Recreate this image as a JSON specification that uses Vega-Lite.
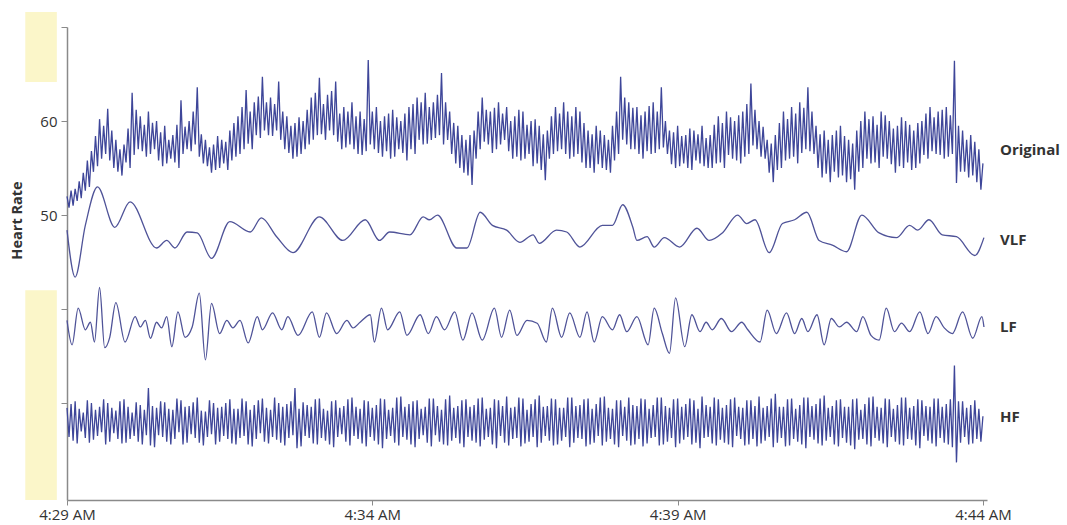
{
"$schema":"https://vega.github.io/schema/vega-lite/v6.json",
"width":920,"height":473,
"autosize":"none",
"padding":{"left":67,"top":27,"right":80,"bottom":25},
"background":"white",
"config":{"view":{"stroke":null},"font":"Open Sans"},
"datasets":{
"bands":[{"t1":-41,"t2":-10,"v1":64.15,"v2":71.6},{"t1":-41,"t2":-10,"v1":19.7,"v2":42.0}],
"labels":[{"t":901,"v":56.9,"label":"Original"},{"t":901,"v":47.3,"label":"VLF"},{"t":901,"v":38.1,"label":"LF"},{"t":901,"v":28.5,"label":"HF"}],
"beats":[
{"t":0,"o":52.0,"h":29.5},{"t":2,"o":50.8,"h":26.4},{"t":4,"o":52.6,"h":29.9},{"t":6,"o":51.0,"h":26.0},
{"t":8,"o":52.8,"h":30.2},{"t":10,"o":51.5,"h":25.7},{"t":12,"o":53.6,"h":29.4},{"t":14,"o":51.8,"h":27.0},
{"t":16,"o":54.5,"h":29.0},{"t":18,"o":52.6,"h":26.3},{"t":20,"o":55.8,"h":30.3},{"t":22,"o":53.0,"h":25.8},
{"t":24,"o":56.8,"h":30.0},{"t":26,"o":54.6,"h":26.1},{"t":28,"o":58.4,"h":29.3},{"t":30,"o":55.2,"h":26.5},
{"t":32,"o":60.2,"h":29.6},{"t":34,"o":56.0,"h":26.9},{"t":36,"o":59.5,"h":30.4},{"t":38,"o":56.5,"h":25.6},
{"t":40,"o":61.3,"h":30.0},{"t":42,"o":55.8,"h":25.9},{"t":44,"o":59.0,"h":29.5},{"t":46,"o":55.0,"h":26.8},
{"t":48,"o":58.0,"h":29.2},{"t":50,"o":54.6,"h":26.2},{"t":52,"o":57.0,"h":30.2},{"t":54,"o":54.2,"h":25.7},
{"t":56,"o":57.5,"h":30.4},{"t":58,"o":55.6,"h":25.8},{"t":60,"o":59.2,"h":29.6},{"t":62,"o":55.0,"h":26.2},
{"t":64,"o":63.0,"h":29.0},{"t":66,"o":56.4,"h":26.5},{"t":68,"o":61.2,"h":30.1},{"t":70,"o":57.0,"h":25.9},
{"t":72,"o":60.5,"h":29.8},{"t":74,"o":56.8,"h":25.6},{"t":76,"o":59.6,"h":29.3},{"t":78,"o":56.2,"h":26.6},
{"t":80,"o":61.0,"h":31.6},{"t":82,"o":56.5,"h":25.5},{"t":84,"o":59.8,"h":29.7},{"t":86,"o":57.0,"h":25.3},
{"t":88,"o":60.0,"h":29.5},{"t":90,"o":55.8,"h":26.6},{"t":92,"o":58.8,"h":30.2},{"t":94,"o":55.2,"h":26.4},
{"t":96,"o":59.5,"h":30.1},{"t":98,"o":55.5,"h":25.9},{"t":100,"o":58.0,"h":29.4},{"t":102,"o":56.0,"h":25.6},
{"t":104,"o":58.5,"h":29.3},{"t":106,"o":55.6,"h":26.2},{"t":108,"o":59.6,"h":30.5},{"t":110,"o":55.0,"h":26.9},
{"t":112,"o":62.2,"h":30.3},{"t":114,"o":56.5,"h":25.6},{"t":116,"o":59.4,"h":29.6},{"t":118,"o":57.0,"h":25.8},
{"t":120,"o":60.0,"h":29.7},{"t":122,"o":56.8,"h":26.7},{"t":124,"o":61.0,"h":30.1},{"t":126,"o":57.5,"h":26.3},
{"t":128,"o":63.6,"h":30.6},{"t":130,"o":56.2,"h":25.8},{"t":132,"o":58.6,"h":29.2},{"t":134,"o":55.5,"h":25.5},
{"t":136,"o":58.0,"h":29.1},{"t":138,"o":55.2,"h":26.4},{"t":140,"o":57.2,"h":30.3},{"t":142,"o":54.5,"h":26.7},
{"t":144,"o":57.5,"h":30.0},{"t":146,"o":54.8,"h":25.6},{"t":148,"o":58.4,"h":29.5},{"t":150,"o":55.0,"h":25.9},
{"t":152,"o":58.0,"h":29.6},{"t":154,"o":55.5,"h":26.5},{"t":156,"o":57.8,"h":30.0},{"t":158,"o":54.8,"h":26.2},
{"t":160,"o":59.0,"h":30.4},{"t":162,"o":55.8,"h":25.7},{"t":164,"o":59.8,"h":29.4},{"t":166,"o":56.2,"h":25.6},
{"t":168,"o":60.5,"h":29.4},{"t":170,"o":56.5,"h":26.3},{"t":172,"o":61.5,"h":30.5},{"t":174,"o":57.0,"h":26.5},
{"t":176,"o":63.3,"h":30.2},{"t":178,"o":57.6,"h":25.6},{"t":180,"o":61.0,"h":29.3},{"t":182,"o":57.0,"h":25.4},
{"t":184,"o":62.0,"h":29.8},{"t":186,"o":58.5,"h":26.2},{"t":188,"o":62.6,"h":30.3},{"t":190,"o":58.2,"h":26.8},
{"t":192,"o":64.7,"h":30.5},{"t":194,"o":59.0,"h":25.9},{"t":196,"o":62.0,"h":29.5},{"t":198,"o":58.5,"h":25.7},
{"t":200,"o":62.5,"h":29.3},{"t":202,"o":58.4,"h":26.4},{"t":204,"o":61.8,"h":30.6},{"t":206,"o":59.0,"h":26.1},
{"t":208,"o":64.2,"h":30.0},{"t":210,"o":58.0,"h":25.8},{"t":212,"o":61.0,"h":29.6},{"t":214,"o":57.0,"h":25.5},
{"t":216,"o":60.5,"h":29.9},{"t":218,"o":56.6,"h":26.3},{"t":220,"o":59.5,"h":30.2},{"t":222,"o":56.0,"h":26.6},
{"t":224,"o":59.8,"h":31.6},{"t":226,"o":56.2,"h":25.2},{"t":228,"o":60.4,"h":29.4},{"t":230,"o":56.5,"h":25.4},
{"t":232,"o":60.0,"h":30.1},{"t":234,"o":57.0,"h":26.5},{"t":236,"o":61.2,"h":29.8},{"t":238,"o":57.5,"h":26.3},
{"t":240,"o":62.5,"h":29.6},{"t":242,"o":58.0,"h":25.7},{"t":244,"o":63.0,"h":30.4},{"t":246,"o":58.5,"h":25.6},
{"t":248,"o":64.6,"h":30.5},{"t":250,"o":58.6,"h":26.3},{"t":252,"o":61.8,"h":29.4},{"t":254,"o":58.0,"h":26.0},
{"t":256,"o":62.8,"h":29.2},{"t":258,"o":59.0,"h":25.6},{"t":260,"o":63.2,"h":30.2},{"t":262,"o":58.5,"h":25.3},
{"t":264,"o":64.2,"h":30.3},{"t":266,"o":57.8,"h":26.4},{"t":268,"o":60.8,"h":29.5},{"t":270,"o":57.0,"h":26.7},
{"t":272,"o":61.5,"h":29.7},{"t":274,"o":57.2,"h":25.9},{"t":276,"o":61.0,"h":30.4},{"t":278,"o":57.5,"h":25.5},
{"t":280,"o":62.0,"h":30.6},{"t":282,"o":57.0,"h":26.5},{"t":284,"o":60.5,"h":29.6},{"t":286,"o":56.5,"h":26.2},
{"t":288,"o":61.0,"h":29.4},{"t":290,"o":56.4,"h":25.7},{"t":292,"o":60.2,"h":30.3},{"t":294,"o":56.8,"h":25.4},
{"t":296,"o":66.5,"h":30.2},{"t":298,"o":57.5,"h":26.4},{"t":300,"o":61.0,"h":29.5},{"t":302,"o":57.0,"h":26.0},
{"t":304,"o":61.5,"h":29.8},{"t":306,"o":56.6,"h":25.6},{"t":308,"o":60.0,"h":30.5},{"t":310,"o":56.2,"h":25.2},
{"t":312,"o":60.5,"h":30.4},{"t":314,"o":56.8,"h":26.2},{"t":316,"o":60.8,"h":29.3},{"t":318,"o":56.0,"h":26.5},
{"t":320,"o":61.2,"h":29.5},{"t":322,"o":56.2,"h":25.8},{"t":324,"o":60.4,"h":30.6},{"t":326,"o":57.0,"h":25.5},
{"t":328,"o":60.0,"h":30.7},{"t":330,"o":56.6,"h":26.4},{"t":332,"o":60.8,"h":29.6},{"t":334,"o":55.8,"h":26.1},
{"t":336,"o":61.5,"h":29.9},{"t":338,"o":57.0,"h":25.6},{"t":340,"o":61.8,"h":30.2},{"t":342,"o":56.5,"h":25.3},
{"t":344,"o":62.5,"h":30.3},{"t":346,"o":58.0,"h":26.2},{"t":348,"o":62.0,"h":29.4},{"t":350,"o":57.5,"h":26.6},
{"t":352,"o":63.0,"h":29.6},{"t":354,"o":57.6,"h":25.8},{"t":356,"o":61.5,"h":30.5},{"t":358,"o":58.0,"h":25.4},
{"t":360,"o":62.0,"h":30.5},{"t":362,"o":58.2,"h":26.6},{"t":364,"o":62.8,"h":29.7},{"t":366,"o":58.5,"h":25.9},
{"t":368,"o":65.1,"h":29.3},{"t":370,"o":57.5,"h":25.6},{"t":372,"o":62.0,"h":30.4},{"t":374,"o":58.0,"h":25.5},
{"t":376,"o":61.0,"h":30.8},{"t":378,"o":56.5,"h":26.0},{"t":380,"o":59.8,"h":29.5},{"t":382,"o":55.5,"h":26.3},
{"t":384,"o":59.5,"h":29.7},{"t":386,"o":55.0,"h":25.7},{"t":388,"o":58.5,"h":30.3},{"t":390,"o":54.5,"h":25.3},
{"t":392,"o":58.0,"h":30.4},{"t":394,"o":54.2,"h":26.4},{"t":396,"o":58.5,"h":29.6},{"t":398,"o":53.2,"h":26.0},
{"t":400,"o":59.0,"h":29.8},{"t":402,"o":56.0,"h":25.8},{"t":404,"o":61.0,"h":30.5},{"t":406,"o":57.0,"h":25.4},
{"t":408,"o":62.5,"h":30.6},{"t":410,"o":57.8,"h":26.1},{"t":412,"o":61.2,"h":29.4},{"t":414,"o":57.5,"h":26.4},
{"t":416,"o":61.0,"h":29.5},{"t":418,"o":56.6,"h":25.6},{"t":420,"o":61.4,"h":30.4},{"t":422,"o":57.0,"h":25.2},
{"t":424,"o":62.0,"h":30.3},{"t":426,"o":57.5,"h":26.5},{"t":428,"o":60.8,"h":29.7},{"t":430,"o":58.0,"h":25.8},
{"t":432,"o":61.5,"h":30.7},{"t":434,"o":56.8,"h":25.5},{"t":436,"o":60.0,"h":29.5},{"t":438,"o":56.0,"h":26.2},
{"t":440,"o":60.5,"h":29.6},{"t":442,"o":56.2,"h":26.3},{"t":444,"o":61.2,"h":30.6},{"t":446,"o":55.8,"h":25.4},
{"t":448,"o":61.0,"h":30.5},{"t":450,"o":56.0,"h":25.7},{"t":452,"o":59.6,"h":29.3},{"t":454,"o":56.5,"h":25.9},
{"t":456,"o":60.0,"h":29.9},{"t":458,"o":55.2,"h":26.4},{"t":460,"o":60.2,"h":30.4},{"t":462,"o":55.5,"h":25.3},
{"t":464,"o":59.5,"h":30.8},{"t":466,"o":54.8,"h":25.8},{"t":468,"o":58.6,"h":29.6},{"t":470,"o":53.7,"h":26.5},
{"t":472,"o":59.0,"h":29.7},{"t":474,"o":56.0,"h":26.0},{"t":476,"o":60.5,"h":30.5},{"t":478,"o":56.5,"h":25.5},
{"t":480,"o":61.5,"h":30.4},{"t":482,"o":56.8,"h":25.6},{"t":484,"o":60.8,"h":29.5},{"t":486,"o":57.0,"h":26.0},
{"t":488,"o":62.0,"h":29.5},{"t":490,"o":56.5,"h":26.4},{"t":492,"o":61.0,"h":30.6},{"t":494,"o":56.0,"h":25.3},
{"t":496,"o":60.5,"h":30.6},{"t":498,"o":56.2,"h":25.8},{"t":500,"o":61.5,"h":29.7},{"t":502,"o":56.5,"h":26.3},
{"t":504,"o":61.0,"h":29.8},{"t":506,"o":55.6,"h":26.2},{"t":508,"o":59.8,"h":30.4},{"t":510,"o":55.0,"h":25.4},
{"t":512,"o":59.0,"h":30.5},{"t":514,"o":55.0,"h":25.6},{"t":516,"o":58.6,"h":29.4},{"t":518,"o":54.5,"h":25.8},
{"t":520,"o":59.5,"h":29.9},{"t":522,"o":55.4,"h":26.5},{"t":524,"o":59.0,"h":30.6},{"t":526,"o":55.0,"h":25.5},
{"t":528,"o":58.5,"h":30.7},{"t":530,"o":54.8,"h":25.9},{"t":532,"o":58.0,"h":29.5},{"t":534,"o":54.5,"h":26.2},
{"t":536,"o":59.5,"h":29.4},{"t":538,"o":55.8,"h":25.6},{"t":540,"o":61.0,"h":30.3},{"t":542,"o":56.5,"h":25.3},
{"t":544,"o":64.7,"h":30.3},{"t":546,"o":58.0,"h":26.5},{"t":548,"o":62.5,"h":29.6},{"t":550,"o":57.5,"h":26.0},
{"t":552,"o":62.0,"h":30.6},{"t":554,"o":57.0,"h":25.5},{"t":556,"o":61.4,"h":29.8},{"t":558,"o":57.0,"h":25.6},
{"t":560,"o":61.5,"h":29.7},{"t":562,"o":56.5,"h":26.2},{"t":564,"o":60.6,"h":30.5},{"t":566,"o":56.0,"h":25.4},
{"t":568,"o":61.0,"h":30.4},{"t":570,"o":56.8,"h":25.7},{"t":572,"o":61.6,"h":29.4},{"t":574,"o":56.5,"h":26.3},
{"t":576,"o":62.0,"h":29.8},{"t":578,"o":56.6,"h":26.4},{"t":580,"o":61.0,"h":30.6},{"t":582,"o":57.0,"h":25.5},
{"t":584,"o":63.6,"h":30.6},{"t":586,"o":57.2,"h":25.6},{"t":588,"o":60.0,"h":29.7},{"t":590,"o":56.5,"h":25.9},
{"t":592,"o":59.0,"h":29.5},{"t":594,"o":55.4,"h":26.3},{"t":596,"o":58.8,"h":30.4},{"t":598,"o":55.0,"h":25.3},
{"t":600,"o":59.5,"h":30.5},{"t":602,"o":55.2,"h":25.7},{"t":604,"o":58.4,"h":29.6},{"t":606,"o":55.5,"h":26.1},
{"t":608,"o":58.5,"h":29.9},{"t":610,"o":55.0,"h":26.4},{"t":612,"o":59.2,"h":30.5},{"t":614,"o":54.8,"h":25.6},
{"t":616,"o":59.0,"h":30.3},{"t":618,"o":55.8,"h":25.8},{"t":620,"o":58.6,"h":29.4},{"t":622,"o":55.5,"h":25.2},
{"t":624,"o":59.5,"h":30.7},{"t":626,"o":55.2,"h":26.3},{"t":628,"o":58.2,"h":29.8},{"t":630,"o":55.0,"h":26.4},
{"t":632,"o":58.5,"h":29.6},{"t":634,"o":55.0,"h":25.7},{"t":636,"o":59.6,"h":30.6},{"t":638,"o":55.5,"h":25.5},
{"t":640,"o":60.5,"h":30.4},{"t":642,"o":55.6,"h":26.1},{"t":644,"o":59.8,"h":29.5},{"t":646,"o":55.0,"h":25.8},
{"t":648,"o":61.0,"h":29.8},{"t":650,"o":56.4,"h":25.6},{"t":652,"o":60.4,"h":30.4},{"t":654,"o":56.0,"h":25.3},
{"t":656,"o":60.0,"h":30.6},{"t":658,"o":55.8,"h":26.5},{"t":660,"o":60.6,"h":29.6},{"t":662,"o":55.5,"h":26.2},
{"t":664,"o":61.0,"h":29.5},{"t":666,"o":56.2,"h":25.5},{"t":668,"o":61.8,"h":30.3},{"t":670,"o":56.5,"h":25.6},
{"t":672,"o":64.0,"h":30.3},{"t":674,"o":57.4,"h":26.2},{"t":676,"o":61.2,"h":29.7},{"t":678,"o":57.0,"h":25.4},
{"t":680,"o":60.0,"h":30.7},{"t":682,"o":56.2,"h":25.7},{"t":684,"o":59.4,"h":29.5},{"t":686,"o":56.0,"h":26.0},
{"t":688,"o":58.0,"h":29.7},{"t":690,"o":54.5,"h":26.4},{"t":692,"o":57.6,"h":30.5},{"t":694,"o":53.5,"h":25.3},
{"t":696,"o":58.5,"h":31.0},{"t":698,"o":54.8,"h":25.8},{"t":700,"o":59.8,"h":29.6},{"t":702,"o":55.0,"h":26.3},
{"t":704,"o":61.0,"h":29.6},{"t":706,"o":55.8,"h":25.4},{"t":708,"o":60.2,"h":30.4},{"t":710,"o":56.0,"h":25.5},
{"t":712,"o":61.5,"h":30.5},{"t":714,"o":56.2,"h":26.2},{"t":716,"o":60.8,"h":29.4},{"t":718,"o":55.5,"h":25.9},
{"t":720,"o":62.0,"h":29.8},{"t":722,"o":56.6,"h":25.6},{"t":724,"o":61.4,"h":30.6},{"t":726,"o":57.0,"h":25.2},
{"t":728,"o":63.6,"h":30.6},{"t":730,"o":56.8,"h":26.4},{"t":732,"o":61.0,"h":29.7},{"t":734,"o":56.5,"h":26.1},
{"t":736,"o":59.5,"h":29.9},{"t":738,"o":55.0,"h":25.7},{"t":740,"o":58.6,"h":30.5},{"t":742,"o":54.0,"h":25.5},
{"t":744,"o":59.0,"h":30.8},{"t":746,"o":54.4,"h":26.0},{"t":748,"o":58.0,"h":29.5},{"t":750,"o":53.5,"h":26.4},
{"t":752,"o":58.5,"h":29.7},{"t":754,"o":54.6,"h":25.6},{"t":756,"o":59.0,"h":30.3},{"t":758,"o":54.0,"h":25.4},
{"t":760,"o":59.5,"h":30.4},{"t":762,"o":54.2,"h":26.3},{"t":764,"o":58.4,"h":29.6},{"t":766,"o":53.5,"h":25.8},
{"t":768,"o":58.0,"h":29.6},{"t":770,"o":53.8,"h":25.5},{"t":772,"o":57.6,"h":30.4},{"t":774,"o":52.7,"h":25.1},
{"t":776,"o":59.0,"h":30.5},{"t":778,"o":54.6,"h":26.1},{"t":780,"o":60.0,"h":29.3},{"t":782,"o":55.0,"h":26.2},
{"t":784,"o":61.0,"h":29.9},{"t":786,"o":56.0,"h":25.6},{"t":788,"o":60.2,"h":30.6},{"t":790,"o":55.5,"h":25.4},
{"t":792,"o":60.5,"h":30.7},{"t":794,"o":55.6,"h":26.3},{"t":796,"o":59.6,"h":29.6},{"t":798,"o":55.0,"h":26.0},
{"t":800,"o":61.0,"h":29.5},{"t":802,"o":56.2,"h":25.7},{"t":804,"o":60.6,"h":30.5},{"t":806,"o":56.0,"h":25.3},
{"t":808,"o":60.0,"h":30.4},{"t":810,"o":55.4,"h":26.4},{"t":812,"o":59.2,"h":29.4},{"t":814,"o":54.5,"h":25.9},
{"t":816,"o":59.5,"h":29.8},{"t":818,"o":55.2,"h":25.6},{"t":820,"o":60.4,"h":30.6},{"t":822,"o":55.0,"h":25.5},
{"t":824,"o":60.0,"h":30.6},{"t":826,"o":55.6,"h":26.2},{"t":828,"o":59.6,"h":29.5},{"t":830,"o":54.8,"h":26.1},
{"t":832,"o":59.0,"h":29.7},{"t":834,"o":55.0,"h":25.5},{"t":836,"o":59.8,"h":30.4},{"t":838,"o":55.5,"h":25.2},
{"t":840,"o":60.0,"h":30.3},{"t":842,"o":56.4,"h":26.5},{"t":844,"o":60.8,"h":29.7},{"t":846,"o":56.0,"h":26.0},
{"t":848,"o":61.5,"h":29.6},{"t":850,"o":56.8,"h":25.7},{"t":852,"o":60.4,"h":30.5},{"t":854,"o":56.5,"h":25.4},
{"t":856,"o":61.0,"h":30.5},{"t":858,"o":56.4,"h":26.3},{"t":860,"o":61.2,"h":29.6},{"t":862,"o":56.0,"h":25.8},
{"t":864,"o":61.5,"h":29.9},{"t":866,"o":56.2,"h":25.6},{"t":868,"o":60.6,"h":30.4},{"t":870,"o":56.5,"h":25.3},
{"t":872,"o":66.4,"h":34.0},{"t":874,"o":53.4,"h":23.7},{"t":876,"o":59.5,"h":30.2},{"t":878,"o":54.6,"h":25.8},
{"t":880,"o":59.0,"h":30.2},{"t":882,"o":54.6,"h":26.4},{"t":884,"o":58.0,"h":29.5},{"t":886,"o":54.0,"h":25.6},
{"t":888,"o":58.5,"h":29.8},{"t":890,"o":54.2,"h":25.7},{"t":892,"o":57.8,"h":30.3},{"t":894,"o":53.5,"h":26.2},
{"t":896,"o":57.0,"h":29.4},{"t":898,"o":52.7,"h":25.9},{"t":900,"o":55.5,"h":28.6}
],
"vlf":[
{"t":0,"v":48.4},{"t":8,"v":43.4},{"t":18,"v":48.9},{"t":30,"v":53.0},{"t":47,"v":48.7},{"t":62,"v":51.4},{"t":88,"v":46.5},{"t":98,"v":47.3},{"t":106,"v":46.5},{"t":118,"v":48.2},
{"t":128,"v":48.1},{"t":142,"v":45.4},{"t":160,"v":49.3},{"t":180,"v":48.2},{"t":191,"v":49.7},{"t":206,"v":47.7},{"t":222,"v":46.0},{"t":248,"v":49.8},{"t":271,"v":47.3},{"t":293,"v":49.5},
{"t":307,"v":47.3},{"t":317,"v":48.2},{"t":337,"v":47.9},{"t":350,"v":49.8},{"t":356,"v":49.5},{"t":364,"v":50.0},{"t":383,"v":46.5},{"t":393,"v":46.5},{"t":406,"v":50.3},{"t":418,"v":48.9},
{"t":432,"v":48.4},{"t":445,"v":47.1},{"t":458,"v":47.9},{"t":464,"v":47.0},{"t":481,"v":48.4},{"t":491,"v":48.2},{"t":504,"v":46.6},{"t":526,"v":48.9},{"t":536,"v":48.9},{"t":546,"v":51.1},
{"t":556,"v":48.7},{"t":560,"v":47.3},{"t":570,"v":47.7},{"t":577,"v":46.6},{"t":587,"v":47.6},{"t":602,"v":46.6},{"t":619,"v":48.6},{"t":631,"v":47.3},{"t":644,"v":48.1},{"t":659,"v":50.0},
{"t":668,"v":49.1},{"t":676,"v":49.5},{"t":690,"v":46.0},{"t":703,"v":49.1},{"t":715,"v":49.5},{"t":727,"v":50.3},{"t":739,"v":47.3},{"t":752,"v":46.8},{"t":766,"v":46.1},{"t":781,"v":50.0},
{"t":798,"v":48.1},{"t":815,"v":47.6},{"t":828,"v":48.9},{"t":836,"v":48.4},{"t":847,"v":49.5},{"t":860,"v":47.9},{"t":874,"v":47.7},{"t":892,"v":45.7},{"t":901,"v":47.6}
],
"lf":[
{"t":0,"v":38.8},{"t":5,"v":36.2},{"t":11,"v":40.1},{"t":18,"v":37.8},{"t":23,"v":38.6},{"t":27,"v":36.5},{"t":32,"v":42.3},{"t":37,"v":35.9},{"t":42,"v":37.0},{"t":48,"v":40.7},
{"t":57,"v":36.5},{"t":67,"v":39.2},{"t":72,"v":38.1},{"t":77,"v":38.8},{"t":82,"v":36.9},{"t":88,"v":38.6},{"t":93,"v":38.0},{"t":98,"v":39.2},{"t":103,"v":36.0},{"t":109,"v":39.7},
{"t":116,"v":37.0},{"t":123,"v":38.1},{"t":130,"v":41.7},{"t":136,"v":34.6},{"t":142,"v":40.6},{"t":150,"v":37.4},{"t":157,"v":38.8},{"t":163,"v":38.0},{"t":170,"v":38.8},{"t":178,"v":36.4},
{"t":187,"v":39.2},{"t":192,"v":37.8},{"t":202,"v":39.6},{"t":211,"v":37.8},{"t":217,"v":39.2},{"t":227,"v":37.2},{"t":241,"v":39.7},{"t":248,"v":37.0},{"t":255,"v":39.6},{"t":265,"v":37.4},
{"t":275,"v":38.8},{"t":281,"v":38.0},{"t":288,"v":38.6},{"t":298,"v":39.4},{"t":302,"v":36.5},{"t":309,"v":40.1},{"t":315,"v":37.8},{"t":327,"v":39.7},{"t":334,"v":37.2},{"t":347,"v":39.4},
{"t":355,"v":37.4},{"t":363,"v":39.2},{"t":371,"v":37.8},{"t":381,"v":39.7},{"t":389,"v":36.7},{"t":398,"v":39.6},{"t":408,"v":36.7},{"t":420,"v":40.1},{"t":427,"v":37.0},{"t":435,"v":39.9},
{"t":442,"v":37.2},{"t":452,"v":38.8},{"t":462,"v":38.5},{"t":471,"v":36.5},{"t":477,"v":40.1},{"t":486,"v":37.0},{"t":494,"v":39.6},{"t":504,"v":37.0},{"t":511,"v":39.7},{"t":518,"v":36.5},
{"t":526,"v":39.2},{"t":536,"v":37.8},{"t":543,"v":39.4},{"t":550,"v":37.6},{"t":560,"v":39.2},{"t":571,"v":36.2},{"t":577,"v":40.1},{"t":585,"v":37.4},{"t":592,"v":35.3},{"t":598,"v":41.2},
{"t":607,"v":36.0},{"t":614,"v":39.4},{"t":622,"v":37.6},{"t":628,"v":38.6},{"t":634,"v":37.8},{"t":643,"v":39.0},{"t":653,"v":37.6},{"t":663,"v":38.6},{"t":669,"v":37.8},{"t":681,"v":36.5},
{"t":688,"v":39.9},{"t":697,"v":37.4},{"t":707,"v":39.6},{"t":715,"v":37.4},{"t":722,"v":39.0},{"t":728,"v":37.6},{"t":737,"v":39.4},{"t":744,"v":36.2},{"t":751,"v":39.0},{"t":759,"v":38.1},
{"t":766,"v":38.6},{"t":776,"v":37.6},{"t":782,"v":39.2},{"t":790,"v":37.2},{"t":798,"v":36.7},{"t":805,"v":40.1},{"t":813,"v":37.6},{"t":820,"v":38.5},{"t":828,"v":37.6},{"t":838,"v":39.7},
{"t":846,"v":37.4},{"t":854,"v":39.2},{"t":862,"v":38.0},{"t":870,"v":37.4},{"t":880,"v":39.7},{"t":890,"v":36.9},{"t":899,"v":39.2},{"t":901,"v":38.1}
]
},
"layer":[
{"data":{"name":"bands"},
 "mark":{"type":"rect","color":"#fbf6c9","clip":false},
 "encoding":{
  "x":{"field":"t1","type":"quantitative","scale":{"domain":[0,904],"nice":false,"zero":false},"title":null},
  "x2":{"field":"t2"},
  "y":{"field":"v1","type":"quantitative","scale":{"domain":[19.7,70],"nice":false,"zero":false},"title":"Heart Rate"},
  "y2":{"field":"v2"}}},
{"data":{"name":"beats"},
 "mark":{"type":"line","color":"#3e4699","strokeWidth":1.3},
 "encoding":{
  "x":{"field":"t","type":"quantitative","scale":{"domain":[0,904],"nice":false,"zero":false},"title":null,
   "axis":{"values":[0,300,600,900],"labelExpr":"datum.value==0?'4:29 AM':datum.value==300?'4:34 AM':datum.value==600?'4:39 AM':'4:44 AM'","domainColor":"#8a8a8a","domainWidth":1.5,"tickColor":"#8a8a8a","tickSize":5,"labelFontSize":15,"labelColor":"#333333","labelPadding":2,"grid":false,"labelFlush":false,"labelFont":"Open Sans"}},
  "y":{"field":"o","type":"quantitative","scale":{"domain":[19.7,70],"nice":false,"zero":false},"title":"Heart Rate",
   "axis":{"values":[30,40,50,60,70],"labelExpr":"datum.value==50||datum.value==60?datum.label:''","domainColor":"#8a8a8a","domainWidth":1.5,"tickColor":"#8a8a8a","tickSize":6,"labelFontSize":15,"labelColor":"#333333","labelPadding":4,"grid":false,"labelFont":"Open Sans","titleFont":"Open Sans","titleFontSize":14.5,"titleFontWeight":"bold","titleColor":"#333333","titleX":-50,"titleY":193,"titleAngle":-90,"titleAlign":"center","titleBaseline":"middle"}}}},
{"data":{"name":"beats"},
 "mark":{"type":"line","color":"#3e4699","strokeWidth":1.3},
 "encoding":{
  "x":{"field":"t","type":"quantitative","scale":{"domain":[0,904],"nice":false,"zero":false},"title":null},
  "y":{"field":"h","type":"quantitative","scale":{"domain":[19.7,70],"nice":false,"zero":false},"title":"Heart Rate"}}},
{"data":{"name":"vlf"},
 "mark":{"type":"line","color":"#4f5398","strokeWidth":1.3,"interpolate":"monotone"},
 "encoding":{
  "x":{"field":"t","type":"quantitative","scale":{"domain":[0,904],"nice":false,"zero":false},"title":null},
  "y":{"field":"v","type":"quantitative","scale":{"domain":[19.7,70],"nice":false,"zero":false},"title":"Heart Rate"}}},
{"data":{"name":"lf"},
 "mark":{"type":"line","color":"#4f5398","strokeWidth":1.3,"interpolate":"monotone"},
 "encoding":{
  "x":{"field":"t","type":"quantitative","scale":{"domain":[0,904],"nice":false,"zero":false},"title":null},
  "y":{"field":"v","type":"quantitative","scale":{"domain":[19.7,70],"nice":false,"zero":false},"title":"Heart Rate"}}},
{"data":{"name":"labels"},
 "mark":{"type":"text","align":"left","baseline":"middle","dx":16,"fontSize":15,"fontWeight":"bold","color":"#333333","font":"Open Sans","clip":false},
 "encoding":{
  "x":{"field":"t","type":"quantitative","scale":{"domain":[0,904],"nice":false,"zero":false},"title":null},
  "y":{"field":"v","type":"quantitative","scale":{"domain":[19.7,70],"nice":false,"zero":false},"title":"Heart Rate"},
  "text":{"field":"label"}}}
]
}
